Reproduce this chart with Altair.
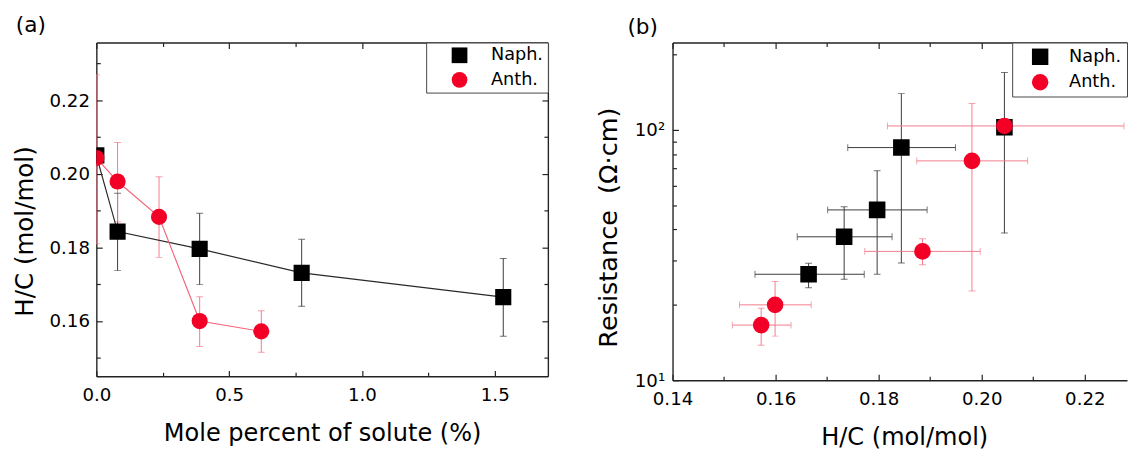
import altair as alt
import pandas as pd

SERIES = ["Naph.", "Anth."]
RED = "#F20025"
NAPH_ERR = "#3a3a3a"
ANTH_ERR = "#F37A8C"
NAPH_LINE = "#2a2a2a"
ANTH_LINE = "#F3647C"
FONT = "DejaVu Sans"

# ---------------- Panel (a): H/C vs mole percent of solute ----------------
a_naph_x = [0.0, 0.080, 0.389, 0.773, 1.532]
a_naph_y = [0.2050, 0.1843, 0.1796, 0.1731, 0.1665]
a_naph_lo = [0.2050, 0.1737, 0.1699, 0.1640, 0.1559]
a_naph_hi = [0.2050, 0.1947, 0.1893, 0.1822, 0.1770]

a_anth_x = [0.0, 0.080, 0.236, 0.389, 0.621]
a_anth_y = [0.2043, 0.1979, 0.1883, 0.1600, 0.1572]
a_anth_lo = [0.1810, 0.1870, 0.1773, 0.1531, 0.1515]
a_anth_hi = [0.2269, 0.2085, 0.1992, 0.1666, 0.1628]

a_x_major = [0.0, 0.5, 1.0, 1.5]
a_x_minor = [0.25, 0.75, 1.25]
a_y_major = [0.16, 0.18, 0.20, 0.22]
a_y_minor = [0.15, 0.17, 0.19, 0.21, 0.23]

# ---------------- Panel (b): Resistance vs H/C ----------------
b_naph_hc = [0.1664, 0.1733, 0.1797, 0.1844, 0.2044]
b_naph_hc_lo = [0.1560, 0.1642, 0.1701, 0.1740, 0.2044]
b_naph_hc_hi = [0.1772, 0.1826, 0.1894, 0.1949, 0.2044]
b_naph_r = [26.5, 37.4, 47.9, 85.0, 102.5]
b_naph_r_lo = [23.4, 25.3, 26.5, 29.4, 38.7]
b_naph_r_hi = [29.3, 49.3, 68.7, 139.6, 169.4]

b_anth_hc = [0.1572, 0.1599, 0.1885, 0.1981, 0.2044]
b_anth_hc_lo = [0.1516, 0.1530, 0.1773, 0.1874, 0.1817]
b_anth_hc_hi = [0.1630, 0.1669, 0.1997, 0.2089, 0.2276]
b_anth_r = [16.6, 20.0, 32.7, 75.2, 103.7]
b_anth_r_lo = [13.8, 15.0, 28.9, 22.7, 103.7]
b_anth_r_hi = [19.4, 24.8, 36.7, 127.4, 103.7]

b_x_major = [0.14, 0.16, 0.18, 0.20, 0.22]
b_x_minor = [0.15, 0.17, 0.19, 0.21]
b_y_major = [10, 100]
b_y_minor = [20, 30, 40, 50, 60, 70, 80, 90, 200]
b_y_labels = ["10\u00b9", "10\u00b2"]

# ---------------- tables ----------------
dfa = pd.DataFrame({
    "series": [SERIES[0]] * len(a_naph_x) + [SERIES[1]] * len(a_anth_x),
    "x": a_naph_x + a_anth_x,
    "y": a_naph_y + a_anth_y,
    "lo": a_naph_lo + a_anth_lo,
    "hi": a_naph_hi + a_anth_hi,
})
dfb = pd.DataFrame({
    "series": [SERIES[0]] * len(b_naph_hc) + [SERIES[1]] * len(b_anth_hc),
    "hc": b_naph_hc + b_anth_hc,
    "hc_lo": b_naph_hc_lo + b_anth_hc_lo,
    "hc_hi": b_naph_hc_hi + b_anth_hc_hi,
    "r": b_naph_r + b_anth_r,
    "r_lo": b_naph_r_lo + b_anth_r_lo,
    "r_hi": b_naph_r_hi + b_anth_r_hi,
})

color_scale = alt.Scale(domain=SERIES, range=["black", RED])
shape_scale = alt.Scale(domain=SERIES, range=["square", "circle"])
ERR_COL = {SERIES[0]: NAPH_ERR, SERIES[1]: ANTH_ERR}
LINE_COL = {SERIES[0]: NAPH_LINE, SERIES[1]: ANTH_LINE}

AXC = "#222222"
WA, HA = 460, 340
WB, HB = 463, 344
MAJOR, MINOR = 6, 4


def lab_axis(orient, values, label_expr, title, label_padding, **kw):
    """Axis carrying labels, title and the frame line (no ticks)."""
    return alt.Axis(
        orient=orient, values=values, ticks=False, domain=True,
        domainColor=AXC, domainWidth=1.4, grid=False,
        labelExpr=label_expr, labelFont=FONT, labelFontSize=18.5,
        labelColor="black", labelPadding=label_padding,
        labelFlush=False, labelOverlap=False,
        title=title, titleFont=FONT, titleFontWeight="normal",
        titleColor="black", titleBaseline="alphabetic", titleAlign="center",
        **kw,
    )


def tick_axis(orient, values, size, offset, domain=False):
    """Axis drawing inward ticks (placed on the opposite edge via offset)."""
    return alt.Axis(
        orient=orient, values=values, offset=offset, labels=False, title=None,
        ticks=True, tickColor=AXC, tickWidth=1.2, tickSize=size,
        domain=domain, domainColor=AXC, domainWidth=1.4, grid=False,
    )


def legend(pad, sym_offset, lab_offset, sym_size):
    return alt.Legend(
        title=None, orient="top-right", offset=0, padding=pad, rowPadding=7,
        symbolSize=sym_size, symbolOffset=sym_offset, labelOffset=lab_offset,
        labelFont=FONT, labelFontSize=18, labelColor="black",
        strokeColor="#444444", fillColor="white",
    )


def only(base, name):
    return base.transform_filter(alt.datum.series == name)


# ---------------- Panel (a) ----------------
xsA = alt.Scale(domain=[0, 1.7], nice=False, zero=False)
ysA = alt.Scale(domain=[0.145, 0.145 + 0.02 * HA / 75], nice=False, zero=False)
baseA = alt.Chart(dfa)

errA = [only(baseA, s).mark_rule(strokeWidth=1, clip=True, color=ERR_COL[s])
        for s in SERIES]
capA = [only(baseA, s).transform_fold(["lo", "hi"], as_=["end", "val"]).mark_tick(
    orient="horizontal", size=7, thickness=1, clip=True, color=ERR_COL[s]) for s in SERIES]
lineA = [only(baseA, s).mark_line(strokeWidth=1.2, clip=True, color=LINE_COL[s])
         for s in SERIES]

layersA = [
    errA[0].encode(
        x=alt.X("x:Q", scale=xsA, axis=lab_axis(
            "bottom", a_x_major, "format(datum.value, '.1f')",
            "Mole percent of solute (%)", 10,
            titleFontSize=24.5, titleX=WA / 2, titleY=65)),
        y=alt.Y("lo:Q", scale=ysA, axis=lab_axis(
            "left", a_y_major, "format(datum.value, '.2f')",
            "H/C (mol/mol)", 7,
            titleFontSize=25, titleX=-65, titleY=192, titleAngle=270)),
        y2="hi:Q"),
    errA[1].encode(
        x=alt.X("x:Q", scale=xsA, axis=tick_axis("top", a_x_major, MAJOR, -HA)),
        y=alt.Y("lo:Q", scale=ysA, axis=tick_axis("right", a_y_major, MAJOR, -WA)),
        y2="hi:Q"),
    capA[0].encode(
        x=alt.X("x:Q", scale=xsA, axis=tick_axis("bottom", a_x_major, MAJOR, -HA, True)),
        y=alt.Y("val:Q", scale=ysA, axis=tick_axis("left", a_y_major, MAJOR, -WA, True))),
    capA[1].encode(
        x=alt.X("x:Q", scale=xsA, axis=tick_axis("top", a_x_minor, MINOR, -HA)),
        y=alt.Y("val:Q", scale=ysA, axis=tick_axis("right", a_y_minor, MINOR, -WA))),
    lineA[0].encode(
        x=alt.X("x:Q", scale=xsA, axis=tick_axis("bottom", a_x_minor, MINOR, -HA)),
        y=alt.Y("y:Q", scale=ysA, axis=tick_axis("left", a_y_minor, MINOR, -WA))),
    lineA[1].encode(
        x=alt.X("x:Q", scale=xsA, axis=None),
        y=alt.Y("y:Q", scale=ysA, axis=None)),
]
legA = legend(4, 21, 23, 256)
ptsA = baseA.mark_point(filled=True, size=270, opacity=1, clip=True).encode(
    x=alt.X("x:Q", scale=xsA, axis=None),
    y=alt.Y("y:Q", scale=ysA, axis=None),
    color=alt.Color("series:N", scale=color_scale, legend=legA),
    shape=alt.Shape("series:N", scale=shape_scale, legend=legA),
)
chartA = alt.layer(*layersA, ptsA).resolve_axis(
    x="independent", y="independent"
).properties(
    width=WA, height=HA,
    title=alt.TitleParams("(a)", anchor="start", frame="group", dx=-82,
                          font=FONT, fontSize=22, fontWeight="normal",
                          color="black", offset=5),
)

# ---------------- Panel (b) ----------------
xsB = alt.Scale(domain=[0.14, 0.14 + 0.02 * WB / 105], nice=False, zero=False)
ysB = alt.Scale(type="log", domain=[10, 10 ** (1 + HB / 255)], nice=False)
baseB = alt.Chart(dfb)

yerrB = [only(baseB, s).mark_rule(strokeWidth=1, clip=True, color=ERR_COL[s])
         for s in SERIES]
xerrB = [only(baseB, s).mark_rule(strokeWidth=1, clip=True, color=ERR_COL[s])
         for s in SERIES]
ycapB = [only(baseB, s).transform_fold(["r_lo", "r_hi"], as_=["end", "val"]).mark_tick(
    orient="horizontal", size=7, thickness=1, clip=True, color=ERR_COL[s]) for s in SERIES]
xcapB = [only(baseB, s).transform_fold(["hc_lo", "hc_hi"], as_=["end", "val"]).mark_tick(
    orient="vertical", size=7, thickness=1, clip=True, color=ERR_COL[s]) for s in SERIES]

layersB = [
    yerrB[0].encode(
        x=alt.X("hc:Q", scale=xsB, axis=lab_axis(
            "bottom", b_x_major, "format(datum.value, '.2f')",
            "H/C (mol/mol)", 10, titleFontSize=24.5, titleX=236, titleY=66)),
        y=alt.Y("r_lo:Q", scale=ysB, axis=lab_axis(
            "left", b_y_major,
            f"datum.value == {b_y_major[0]} ? '{b_y_labels[0]}' : '{b_y_labels[1]}'",
            "Resistance\u00a0 (\u03a9\u00b7cm)", 8,
            titleFontSize=26, titleX=-57, titleY=188, titleAngle=270)),
        y2="r_hi:Q"),
    yerrB[1].encode(
        x=alt.X("hc:Q", scale=xsB, axis=tick_axis("top", b_x_major, MAJOR, -HB)),
        y=alt.Y("r_lo:Q", scale=ysB, axis=tick_axis("right", b_y_major, MAJOR, -WB)),
        y2="r_hi:Q"),
    xerrB[0].encode(
        x=alt.X("hc_lo:Q", scale=xsB, axis=tick_axis("bottom", b_x_major, MAJOR, -HB, True)),
        x2="hc_hi:Q",
        y=alt.Y("r:Q", scale=ysB, axis=tick_axis("right", b_y_minor, MINOR, -WB))),
    xerrB[1].encode(
        x=alt.X("hc_lo:Q", scale=xsB, axis=tick_axis("top", b_x_minor, MINOR, -HB)),
        x2="hc_hi:Q",
        y=alt.Y("r:Q", scale=ysB, axis=None)),
    ycapB[0].encode(
        x=alt.X("hc:Q", scale=xsB, axis=tick_axis("bottom", b_x_minor, MINOR, -HB)),
        y=alt.Y("val:Q", scale=ysB, axis=None)),
    ycapB[1].encode(
        x=alt.X("hc:Q", scale=xsB, axis=None), y=alt.Y("val:Q", scale=ysB, axis=None)),
    xcapB[0].encode(
        x=alt.X("val:Q", scale=xsB, axis=None), y=alt.Y("r:Q", scale=ysB, axis=None)),
    xcapB[1].encode(
        x=alt.X("val:Q", scale=xsB, axis=None), y=alt.Y("r:Q", scale=ysB, axis=None)),
]
legB = legend(5, 14, 20, 280)
ptsB = baseB.mark_point(filled=True, size=285, opacity=1, clip=True).encode(
    x=alt.X("hc:Q", scale=xsB, axis=None),
    y=alt.Y("r:Q", scale=ysB, axis=None),
    color=alt.Color("series:N", scale=color_scale, legend=legB),
    shape=alt.Shape("series:N", scale=shape_scale, legend=legB),
)
chartB = alt.layer(*layersB, ptsB).resolve_axis(
    x="independent", y="independent"
).properties(
    width=WB, height=HB,
    title=alt.TitleParams("(b)", anchor="start", frame="group", dx=-46,
                          font=FONT, fontSize=22, fontWeight="normal",
                          color="black", offset=3),
)

chart = alt.hconcat(chartA, chartB, spacing=48).resolve_scale(
    x="independent", y="independent", color="independent", shape="independent",
).configure_view(stroke=None).configure_legend(strokeWidth=1).properties(
    padding={"left": 5, "top": 2, "right": 0, "bottom": 0}
)

chart.save("out.html", embed_options={"renderer": "svg", "actions": False})
